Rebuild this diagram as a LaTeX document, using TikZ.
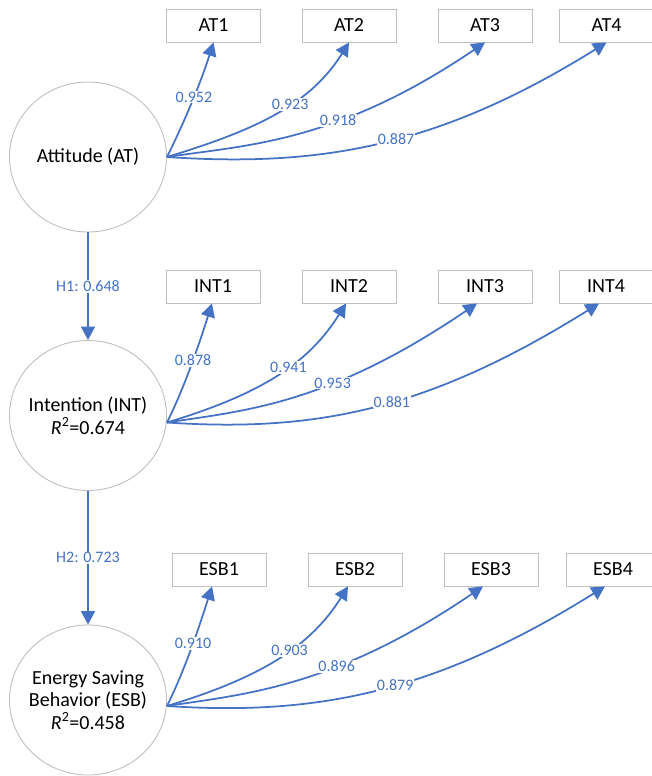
\documentclass[tikz,border=0pt]{standalone}
\usepackage{fontspec}
\setmainfont{Carlito}
\usetikzlibrary{arrows.meta,shapes.geometric}
\definecolor{ob}{HTML}{4472C4}
\definecolor{bord}{HTML}{BFBFBF}
\begin{document}
\begin{tikzpicture}[x=1pt,y=-1pt,
  latent/.style={ellipse,draw=bord,line width=0.9pt,minimum width=157pt,minimum height=150pt,inner sep=0pt},
  ind/.style={rectangle,draw=bord,line width=0.9pt,minimum width=94pt,minimum height=33pt,inner sep=0pt,font=\fontsize{20}{24}\selectfont},
  pth/.style={draw=ob,line width=1.75pt,-{Triangle[length=13.5pt,width=14pt]}},
  coef/.style={fill=white,text=ob,inner sep=1pt,font=\fontsize{16}{19}\selectfont},
  ctext/.style={align=center,font=\fontsize{20}{23}\selectfont}
]
\clip (0,0) rectangle (652,776);
% latent constructs
\node[latent,label={[ctext]center:Attitude (AT)}] (at) at (88,157) {};
\node[latent,label={[ctext]center:Intention (INT)\\\textit{R}\textsuperscript{2}=0.674}] (int) at (88,415.5) {};
\node[latent,label={[ctext,font=\fontsize{20}{22.5}\selectfont]center:Energy Saving\\Behavior (ESB)\\\textit{R}\textsuperscript{2}=0.458}] (esb) at (88,700) {};
% indicators
\node[ind] (at1) at (213.5,25.5) {AT1};
\node[ind] (at2) at (349,25.5) {AT2};
\node[ind] (at3) at (485,25.5) {AT3};
\node[ind] (at4) at (606.5,25.5) {AT4};
\node[ind] (int1) at (213,286.5) {INT1};
\node[ind] (int2) at (349,286.5) {INT2};
\node[ind] (int3) at (485,286.5) {INT3};
\node[ind] (int4) at (606,286.5) {INT4};
\node[ind] (esb1) at (219,569.5) {ESB1};
\node[ind] (esb2) at (355,569.5) {ESB2};
\node[ind] (esb3) at (491,569.5) {ESB3};
\node[ind] (esb4) at (613,569.5) {ESB4};
% structural paths
\draw[pth] (at.south) -- (int.north) node[coef,midway]{H1: 0.648};
\draw[pth] (int.south) -- (esb.north) node[coef,midway]{H2: 0.723};
% AT loadings
\draw[pth] (at.east) .. controls +(18,-36) and +(-12,38) .. (at1.south) node[coef,pos=0.53]{0.952};
\draw[pth] (at.east) .. controls +(96,-29) and +(-37,59) .. (at2.south) node[coef,pos=0.56]{0.923};
\draw[pth] (at.east) .. controls +(79,-12) and +(-149,101) .. (at3.south) node[coef,pos=0.62]{0.918};
\draw[pth] (at.east) .. controls +(150,10) and +(-170,106) .. (at4.south) node[coef,pos=0.54]{0.887};
% INT loadings
\draw[pth] ([yshift=-7pt]int.east) .. controls +(18,-36) and +(-12,38) .. ([xshift=-1pt]int1.south) node[coef,pos=0.53]{0.878};
\draw[pth] ([yshift=-7pt]int.east) .. controls +(96,-29) and +(-37,59) .. ([xshift=-3pt]int2.south) node[coef,pos=0.56]{0.941};
\draw[pth] ([yshift=-7pt]int.east) .. controls +(79,-12) and +(-149,101) .. ([xshift=-8pt]int3.south) node[coef,pos=0.62]{0.953};
\draw[pth] ([yshift=-7pt]int.east) .. controls +(150,10) and +(-170,106) .. ([xshift=-7pt]int4.south) node[coef,pos=0.54]{0.881};
% ESB loadings
\draw[pth] ([yshift=-6pt]esb.east) .. controls +(18,-36) and +(-12,38) .. ([xshift=-7pt]esb1.south) node[coef,pos=0.53]{0.910};
\draw[pth] ([yshift=-6pt]esb.east) .. controls +(96,-29) and +(-37,59) .. ([xshift=-7pt]esb2.south) node[coef,pos=0.56]{0.903};
\draw[pth] ([yshift=-6pt]esb.east) .. controls +(79,-12) and +(-149,101) .. ([xshift=-8pt]esb3.south) node[coef,pos=0.62]{0.896};
\draw[pth] ([yshift=-6pt]esb.east) .. controls +(150,10) and +(-170,106) .. ([xshift=-8pt]esb4.south) node[coef,pos=0.54]{0.879};
\end{tikzpicture}
\end{document}
